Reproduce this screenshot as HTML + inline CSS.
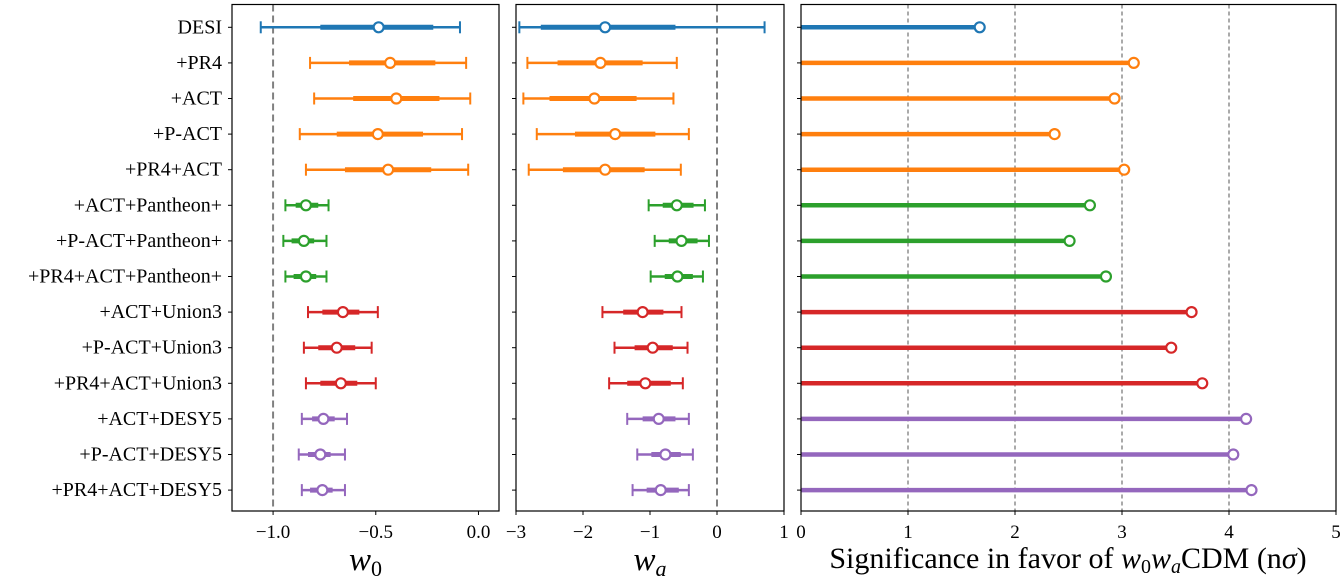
<!DOCTYPE html>
<html><head><meta charset="utf-8"><style>
body{margin:0;background:#fff;}
svg{display:block;font-family:"Liberation Serif",serif;}
</style></head><body>
<svg id="chart" width="1343" height="584" xmlns="http://www.w3.org/2000/svg"></svg>
<script>
const labels=["DESI","+PR4","+ACT","+P-ACT","+PR4+ACT","+ACT+Pantheon+","+P-ACT+Pantheon+","+PR4+ACT+Pantheon+","+ACT+Union3","+P-ACT+Union3","+PR4+ACT+Union3","+ACT+DESY5","+P-ACT+DESY5","+PR4+ACT+DESY5"];
const colorGroup=[0,1,1,1,1,2,2,2,3,3,3,4,4,4];
const w0Center=[-0.486,-0.43,-0.40,-0.49,-0.44,-0.84,-0.85,-0.84,-0.66,-0.69,-0.67,-0.755,-0.77,-0.76];
const w0Lo1=[-0.77,-0.63,-0.61,-0.69,-0.65,-0.89,-0.91,-0.90,-0.76,-0.78,-0.77,-0.81,-0.83,-0.82];
const w0Hi1=[-0.22,-0.21,-0.19,-0.27,-0.23,-0.78,-0.80,-0.79,-0.58,-0.60,-0.59,-0.70,-0.72,-0.71];
const w0Lo2=[-1.06,-0.82,-0.80,-0.87,-0.84,-0.94,-0.95,-0.94,-0.83,-0.85,-0.84,-0.86,-0.875,-0.86];
const w0Hi2=[-0.09,-0.06,-0.04,-0.08,-0.05,-0.73,-0.74,-0.74,-0.49,-0.52,-0.50,-0.64,-0.65,-0.65];
const waCenter=[-1.67,-1.74,-1.83,-1.52,-1.67,-0.60,-0.53,-0.59,-1.11,-0.96,-1.07,-0.87,-0.77,-0.84];
const waLo1=[-2.63,-2.38,-2.50,-2.12,-2.30,-0.81,-0.72,-0.78,-1.40,-1.23,-1.34,-1.11,-0.98,-1.05];
const waHi1=[-0.62,-1.11,-1.20,-0.92,-1.08,-0.35,-0.29,-0.36,-0.80,-0.66,-0.69,-0.62,-0.54,-0.57];
const waLo2=[-2.95,-2.83,-2.89,-2.69,-2.81,-1.02,-0.93,-0.99,-1.71,-1.53,-1.61,-1.34,-1.19,-1.26];
const waHi2=[0.71,-0.60,-0.65,-0.42,-0.54,-0.18,-0.12,-0.21,-0.53,-0.44,-0.51,-0.42,-0.36,-0.42];
const significance=[1.67,3.11,2.93,2.37,3.02,2.70,2.51,2.85,3.65,3.46,3.75,4.16,4.04,4.21];
const w0Ticks=[-1.0,-0.5,0.0];
const w0TickLabels=["\u22121.0","\u22120.5","0.0"];
const waTicks=[-3,-2,-1,0,1];
const waTickLabels=["\u22123","\u22122","\u22121","0","1"];
const sigTicks=[0,1,2,3,4,5];
const sigTickLabels=["0","1","2","3","4","5"];

const colors=["#1f77b4","#ff7f0e","#2ca02c","#d62728","#9467bd"];
const svg=document.getElementById('chart');
const NS="http://www.w3.org/2000/svg";
function mk(tag,attrs,parent){const e=document.createElementNS(NS,tag);for(const k in attrs)e.setAttribute(k,attrs[k]);(parent||svg).appendChild(e);return e;}
const yTop=4.5,yBottom=511;
const rowY=i=>27.3+i*35.6;
const panels=[
 {x0:232,x1:499,lo:-1.2,hi:0.1},
 {x0:516,x1:784,lo:-3,hi:1},
 {x0:801,x1:1336,lo:0,hi:5}];
const sx=(p,v)=>p.x0+(v-p.lo)/(p.hi-p.lo)*(p.x1-p.x0);

labels.forEach((t,i)=>{
 const e=mk('text',{x:222,y:rowY(i)+6,'text-anchor':'end','font-size':'20'});
 e.textContent=t;
 
 
});

function drawErrPanel(p,c,l1,h1,l2,h2,ticks,tlabels,axisName,labHtml){
 const g=mk('g',{});
 
 
 const ref=axisName==='w0'?-1:0;
 mk('line',{x1:sx(p,ref),x2:sx(p,ref),y1:yTop,y2:yBottom,stroke:'#808080','stroke-width':2,'stroke-dasharray':'7,4'},g);
 for(let i=0;i<c.length;i++){
  const y=rowY(i),col=colors[colorGroup[i]];
  const bar=mk('g',{},g);
  
  
  mk('line',{x1:sx(p,l2[i]),x2:sx(p,h2[i]),y1:y,y2:y,stroke:col,'stroke-width':2.5},bar);
  mk('line',{x1:sx(p,l2[i]),x2:sx(p,l2[i]),y1:y-6,y2:y+6,stroke:col,'stroke-width':2},bar);
  mk('line',{x1:sx(p,h2[i]),x2:sx(p,h2[i]),y1:y-6,y2:y+6,stroke:col,'stroke-width':2},bar);
  mk('line',{x1:sx(p,l1[i]),x2:sx(p,h1[i]),y1:y,y2:y,stroke:col,'stroke-width':5},bar);
  mk('circle',{cx:sx(p,c[i]),cy:y,r:5,fill:'#fff',stroke:col,'stroke-width':2.2},bar);
 }
 mk('rect',{x:p.x0,y:yTop,width:p.x1-p.x0,height:yBottom-yTop,fill:'none',stroke:'#000','stroke-width':1.2},g);
 for(let i=0;i<14;i++)mk('line',{x1:p.x0-4,x2:p.x0,y1:rowY(i),y2:rowY(i),stroke:'#000','stroke-width':1},g);
 ticks.forEach((v,k)=>{
  const x=sx(p,v);
  mk('line',{x1:x,x2:x,y1:yBottom,y2:yBottom+4,stroke:'#000','stroke-width':1},g);
  const t=mk('text',{x:x,y:yBottom+27,'text-anchor':'middle','font-size':'19'},g);
  t.textContent=tlabels[k];
 });
 const lab=mk('text',{x:(p.x0+p.x1)/2,y:570,'text-anchor':'middle','font-size':'33','font-style':'italic'},g);
 lab.innerHTML=labHtml;
 
 
}
drawErrPanel(panels[0],w0Center,w0Lo1,w0Hi1,w0Lo2,w0Hi2,w0Ticks,w0TickLabels,'w0','w<tspan font-size="22" dy="6" font-style="normal">0</tspan>');
drawErrPanel(panels[1],waCenter,waLo1,waHi1,waLo2,waHi2,waTicks,waTickLabels,'wa','w<tspan font-size="22" dy="6">a</tspan>');

const p=panels[2];
const g3=mk('g',{});


[1,2,3,4].forEach(v=>mk('line',{x1:sx(p,v),x2:sx(p,v),y1:yTop,y2:yBottom,stroke:'#555','stroke-width':1,'stroke-dasharray':'4,3'},g3));
significance.forEach((v,i)=>{
 const y=rowY(i),col=colors[colorGroup[i]];
 const b=mk('g',{},g3);
 
 
 mk('line',{x1:sx(p,0),x2:sx(p,v),y1:y,y2:y,stroke:col,'stroke-width':4.5},b);
 mk('circle',{cx:sx(p,v),cy:y,r:5,fill:'#fff',stroke:col,'stroke-width':2.2},b);
});
mk('rect',{x:p.x0,y:yTop,width:p.x1-p.x0,height:yBottom-yTop,fill:'none',stroke:'#000','stroke-width':1.2},g3);
for(let i=0;i<14;i++)mk('line',{x1:p.x0-4,x2:p.x0,y1:rowY(i),y2:rowY(i),stroke:'#000','stroke-width':1},g3);
sigTicks.forEach((v,k)=>{
 const x=sx(p,v);
 mk('line',{x1:x,x2:x,y1:yBottom,y2:yBottom+4,stroke:'#000','stroke-width':1},g3);
 const t=mk('text',{x:x,y:yBottom+27,'text-anchor':'middle','font-size':'19'},g3);
 t.textContent=sigTickLabels[k];
});
const st=mk('text',{x:1068,y:568,'text-anchor':'middle','font-size':'30'},g3);
st.innerHTML='Significance in favor of <tspan font-style="italic">w</tspan><tspan font-size="20" dy="5">0</tspan><tspan font-style="italic" dy="-5">w</tspan><tspan font-size="20" font-style="italic" dy="5">a</tspan><tspan dy="-5">CDM (n</tspan><tspan font-style="italic">σ</tspan>)';


</script>
</body></html>
